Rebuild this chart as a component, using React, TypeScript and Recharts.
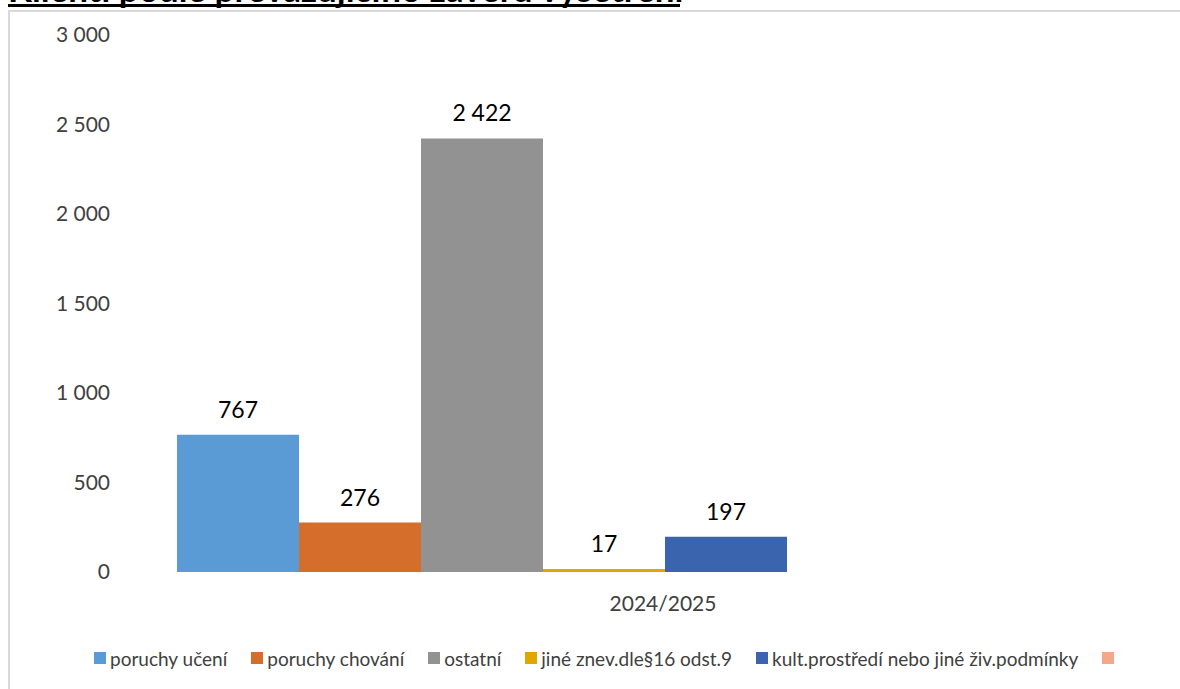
import React from "react"
import { BarChart, Bar, XAxis, YAxis, Legend, LabelList } from "recharts"

const categories = ["2024/2025"]
const seriesNames = [
  "poruchy učení",
  "poruchy chování",
  "ostatní",
  "jiné znev.dle§16 odst.9",
  "kult.prostředí nebo jiné živ.podmínky",
  "",
]
const seriesValues: (number | null)[] = [767, 276, 2422, 17, 197, null]
const seriesColors = ["#5B9BD5", "#D46E2A", "#929292", "#E0A700", "#3A64AD", "#F3A88A"]
// two empty slots that Excel keeps after the visible series (cut off on the right)
const emptySlots = 2
const yTicks = [0, 500, 1000, 1500, 2000, 2500, 3000]

const FONT = "Lato, 'Open Sans', sans-serif"

const fmt = (v: any) =>
  v == null ? "" : String(v).replace(/\B(?=(\d{3})+(?!\d))/g, " ")

const data = categories.map((cat, ci) => {
  const row: Record<string, any> = { name: cat }
  seriesValues.forEach((v, i) => {
    row[`s${i}`] = ci === 0 ? v : null
  })
  for (let k = 0; k < emptySlots; k++) row[`e${k}`] = null
  return row
})

function LegendRow(props: any) {
  const items = (props.payload || [])
    .filter((p: any) => p.type !== "none")
    .sort(
      (a: any, b: any) =>
        Number(String(a.dataKey).slice(1)) - Number(String(b.dataKey).slice(1))
    )
  return (
    <div style={{ height: 71, display: "flex", alignItems: "flex-end" }}>
      <div
        style={{
          display: "flex",
          alignItems: "center",
          paddingLeft: 94,
          paddingBottom: 5,
          height: 20,
          gap: 24,
          fontFamily: FONT,
          fontSize: 19,
          color: "#404040",
        }}
      >
        {items.map((it: any, i: number) => (
          <div key={i} style={{ display: "flex", alignItems: "center", gap: 4 }}>
            <span style={{ width: 12, height: 12, background: it.color, display: "inline-block" }} />
            <span>{it.value}</span>
          </div>
        ))}
      </div>
    </div>
  )
}

export default function App() {
  return (
    <div style={{ position: "fixed", top: 0, left: 0, width: 1180, height: 689, overflow: "hidden", background: "#fff" }}>
      <div
        style={{
          position: "absolute",
          left: 8,
          top: 10,
          width: 1200,
          height: 700,
          border: "2px solid #d9d9d9",
          boxSizing: "border-box",
        }}
      />
      <div style={{ position: "absolute", left: 0, top: 0 }}>
        <BarChart
          width={1180}
          height={689}
          data={data}
          margin={{ top: 35, right: 0, left: 0, bottom: 16 }}
          barCategoryGap={31}
          barGap={0}
        >
          <XAxis
            dataKey="name"
            height={30}
            axisLine={false}
            tickLine={false}
            tickSize={0}
            tickMargin={24}
            tick={{ fill: "#404040", fontSize: 21, fontFamily: FONT }}
          />
          <YAxis
            width={146}
            domain={[0, 3000]}
            ticks={yTicks}
            axisLine={false}
            tickLine={false}
            tickSize={0}
            tickMargin={36}
            tickFormatter={fmt}
            tick={{ fill: "#404040", fontSize: 21, fontFamily: FONT }}
          />
          <Legend verticalAlign="bottom" content={<LegendRow />} />
          {seriesNames.map((n, i) => (
            <Bar
              key={i}
              dataKey={`s${i}`}
              name={n}
              fill={seriesColors[i]}
              isAnimationActive={false}
            >
              <LabelList
                dataKey={`s${i}`}
                position="top"
                offset={17}
                formatter={fmt}
                style={{ fill: "#000", fontSize: 23, fontFamily: FONT }}
              />
            </Bar>
          ))}
          {Array.from({ length: emptySlots }).map((_, k) => (
            <Bar
              key={`e${k}`}
              dataKey={`e${k}`}
              legendType="none"
              fill="#ffffff"
              isAnimationActive={false}
            />
          ))}
        </BarChart>
      </div>
      {/* title, cut off by the top edge of the page */}
      <div
        style={{
          position: "absolute",
          left: 8,
          top: -24,
          zIndex: 5,
          whiteSpace: "nowrap",
          height: 24,
          lineHeight: "24px",
          fontFamily: FONT,
          fontWeight: 700,
          fontSize: 35,
          color: "#000",
        }}
      >
        Klienti podle převažujícího závěru vyšetření
      </div>
      <div
        style={{
          position: "absolute",
          left: 8,
          top: 4,
          width: 672,
          height: 3,
          background: "#000",
          zIndex: 6,
        }}
      />
    </div>
  )
}
